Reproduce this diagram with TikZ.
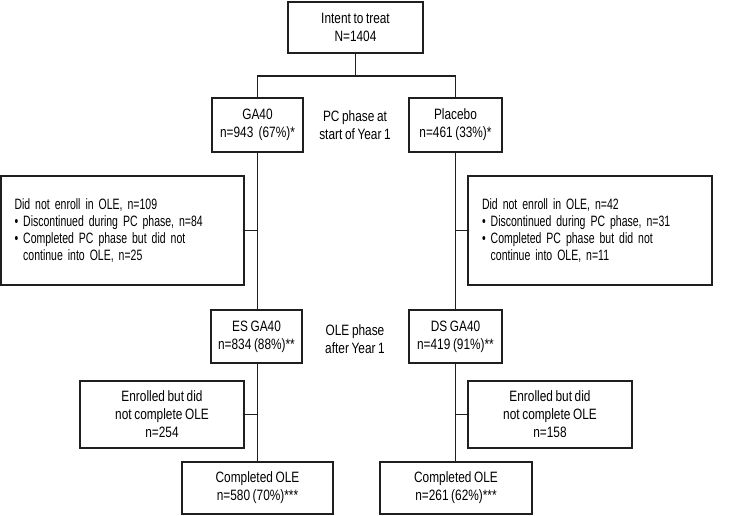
\documentclass[tikz,border=0pt]{standalone}
\usepackage{fontspec}
\setmainfont{Liberation Sans}[FakeStretch=0.79, WordSpace=0.8]
\newfontfamily\sidefont{Liberation Sans}[FakeStretch=0.70, WordSpace=0.8]
\begin{document}
\begin{tikzpicture}[x=1pt,y=1pt,
  box/.style={draw=black!88, line width=1.8pt, inner sep=0pt, align=center,
    font=\fontsize{15}{18}\selectfont, text=black},
  sidebox/.style={draw=black!88, line width=1.8pt, inner sep=0pt, align=left,
    font=\sidefont\fontsize{15}{17.3}\selectfont, text=black},
  lbl/.style={inner sep=0pt, align=center, font=\fontsize{15}{18}\selectfont, text=black},
  conn/.style={draw=black!88, line width=1.5pt}]
\useasboundingbox (0,0) rectangle (747,-515);
\node[box, minimum width=135pt, minimum height=51pt] (itt) at (355.5,-27.5) {Intent to treat\\N=1404};
\node[box, minimum width=91pt, minimum height=54pt] (ga) at (257.5,-125) {GA40\\n=943\ \ (67\%)*};
\node[box, minimum width=93pt, minimum height=54pt] (pl) at (455.5,-125) {Placebo\\n=461 (33\%)*};
\node[lbl] (pc) at (355,-125) {PC phase at\\start of Year 1};
\node[sidebox, minimum width=243pt, minimum height=109pt, text width=216pt] (ls) at (122.5,-230.5)
  {\mbox{Did not enroll in OLE, n=109}\\
   \mbox{\textbullet\ Discontinued during PC phase, n=84}\\
   \mbox{\textbullet\ Completed PC phase but did not}\\
   \mbox{\hphantom{\textbullet\ }continue into OLE, n=25}};
\node[sidebox, minimum width=244pt, minimum height=109pt, text width=216pt] (rs) at (590,-230.5)
  {\mbox{Did not enroll in OLE, n=42}\\
   \mbox{\textbullet\ Discontinued during PC phase, n=31}\\
   \mbox{\textbullet\ Completed PC phase but did not}\\
   \mbox{\hphantom{\textbullet\ }continue into OLE, n=11}};
\node[box, minimum width=91pt, minimum height=53pt] (es) at (256.5,-336.5) {ES GA40\\n=834 (88\%)**};
\node[box, minimum width=93pt, minimum height=53pt] (ds) at (455.5,-336.5) {DS GA40\\n=419 (91\%)**};
\node[lbl] (ole) at (355,-339) {OLE phase\\after Year 1};
\node[box, minimum width=164pt, minimum height=67pt] (le) at (162,-414.5) {Enrolled but did\\not complete OLE\\n=254};
\node[box, minimum width=164pt, minimum height=67pt] (re) at (550,-414.5) {Enrolled but did\\not complete OLE\\n=158};
\node[box, minimum width=151pt, minimum height=52pt] (lc) at (257.5,-488) {Completed OLE\\n=580 (70\%)***};
\node[box, minimum width=152pt, minimum height=52pt] (rc) at (456,-488) {Completed OLE\\n=261 (62\%)***};
\coordinate (split) at (355.5,-76);
\draw[conn] (itt.south) -- (split);
\draw[conn] (ga.north) |- (split) -| (pl.north);
\draw[conn] (ga.south) -- (ga.south |- es.north);
\draw[conn] (pl.south) -- (pl.south |- ds.north);
\draw[conn] (ga.south |- ls.east) -- (ls.east);
\draw[conn] (pl.south |- rs.west) -- (rs.west);
\draw[conn] (es.south -| ga.south) -- (ga.south |- lc.north);
\draw[conn] (ds.south -| pl.south) -- (pl.south |- rc.north);
\draw[conn] (ga.south |- le.east) -- (le.east);
\draw[conn] (pl.south |- re.west) -- (re.west);
\end{tikzpicture}
\end{document}
